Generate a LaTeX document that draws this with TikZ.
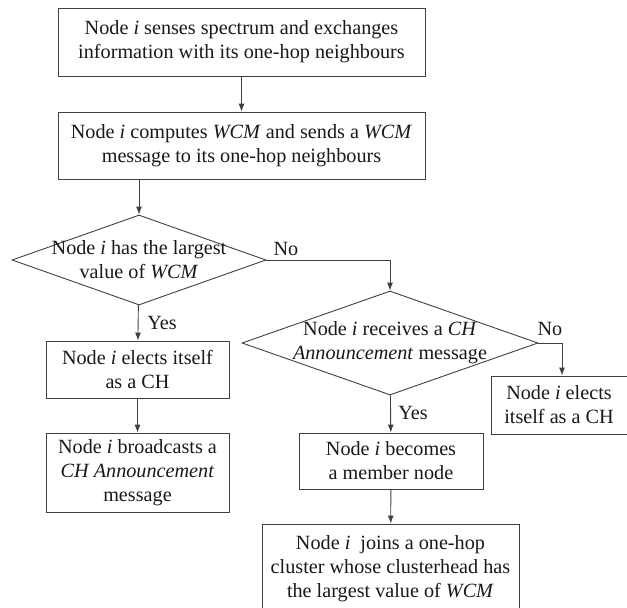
\documentclass[tikz,border=0pt]{standalone}
\usepackage{fontspec}
\setmainfont{Liberation Serif}
\usepackage{tikz}
\usetikzlibrary{shapes.geometric,arrows.meta}
\tikzset{>={Latex[length=8pt,width=6pt]}}
\tikzset{
    stepbox/.style={draw=black!75,line width=0.9pt,align=center,inner sep=0pt},
    choice/.style={draw=black!75,line width=0.9pt,diamond,inner sep=0pt},
    flow/.style={->,draw=black!75,line width=0.9pt},
    tag/.style={inner sep=0pt}
}

\begin{document}
\begin{tikzpicture}[x=1pt,y=-1pt,font=\fontsize{20.2}{24}\selectfont,text=black!90]
            \useasboundingbox (0,0) rectangle (627,608);
            \node[stepbox,minimum width=367pt,minimum height=68pt] (sense) at (241.5,42)
                {Node \textit{i} senses spectrum and exchanges\\information with its one-hop neighbours};
            \node[stepbox,minimum width=367pt,minimum height=67pt] (compute) at (241.5,145.5)
                {Node \textit{i} computes \textit{WCM} and sends a \textit{WCM}\\message to its one-hop neighbours};
            \node[choice,minimum width=254pt,minimum height=90pt,
                label={[align=center]center:Node \textit{i} has the largest\\value of \textit{WCM}}] (largest) at (139,260) {};
            \node[choice,minimum width=296pt,minimum height=104pt,
                label={[align=center]center:Node \textit{i} receives a \textit{CH}\\\textit{Announcement} message}] (receive) at (390,343) {};
            \node[stepbox,minimum width=183pt,minimum height=57pt] (elect) at (137.5,369.5)
                {Node \textit{i} elects itself\\as a CH};
            \node[stepbox,minimum width=183pt,minimum height=79pt] (broadcast) at (137.5,472.5)
                {Node \textit{i} broadcasts a\\\textit{CH Announcement}\\message};
            \node[stepbox,minimum width=184pt,minimum height=56pt] (member) at (391,461)
                {Node \textit{i} becomes\\a member node};
            \node[stepbox,minimum width=257pt,minimum height=90pt] (join) at (390.5,569)
                {Node \textit{i}\ \ joins a one-hop\\cluster whose clusterhead has\\the largest value of \textit{WCM}};
            \node[stepbox,minimum width=136pt,minimum height=58pt] (self) at (559,405)
                {Node \textit{i} elects\\itself as a CH};
            \node[tag] (yes1) at (162,323) {Yes};
            \node[tag] (no1) at (286,249) {No};
            \node[tag] (yes2) at (413,413) {Yes};
            \node[tag] (no2) at (550,329) {No};
            \draw[flow] (sense) -- (compute);
            \draw[flow] (largest.north |- compute.south) -- (largest.north);
            \draw[flow] (largest) -- (elect);
            \draw[flow] (elect) -- (broadcast);
            \draw[flow] (largest.east) -| (receive.north);
            \draw[flow] (receive) -- (member);
            \draw[flow] (member) -- (join);
            \draw[flow] (receive.east) -| ([xshift=3pt]self.north);
        \end{tikzpicture}
\end{document}
